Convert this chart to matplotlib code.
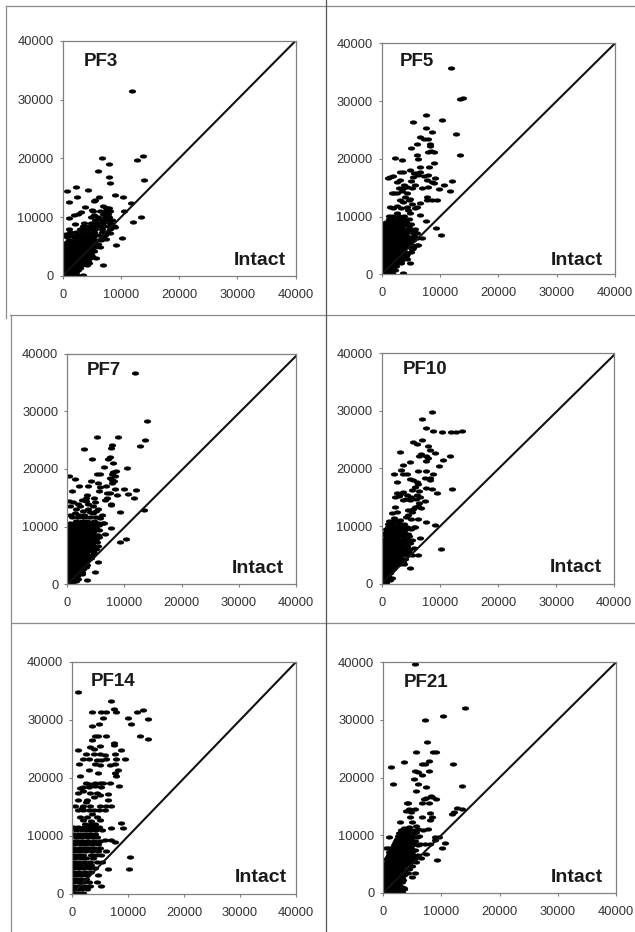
import matplotlib
matplotlib.use("Agg")
import matplotlib.pyplot as plt
from matplotlib.lines import Line2D
from matplotlib.markers import MarkerStyle
from matplotlib.transforms import Affine2D

plt.rcParams['font.family'] = ['Liberation Sans', 'DejaVu Sans']

W, H = 635, 932
ticks = [0, 10000, 20000, 30000, 40000]
tick_labels = ['0', '10000', '20000', '30000', '40000']

#points read one by one (intact, pf)
pf3_sparse = [(11900,31400),(6700,20100),(8000,19000),(12800,19800),(13700,20400),(6000,17800),(7900,16800),(8200,15800),
    (14000,16400),(800,14450),(2300,15100),(4300,14600),(1000,12600),(2500,13500),(9000,13800),(10400,13400),(11700,12400),
    (10600,11000),(6200,13400),(5400,12800),(3800,11700),(5100,11300),(13500,10100),(12100,9100),(10100,6500),(9200,5300),
    (7000,1800),(1100,9900),(1900,10400),(3100,10800),(1000,8000),(2100,8800),(600,7100),(6900,11900),(7600,11500),(5800,3000),
    (2700,10500),(5600,13000),(5300,10300),(6100,9700),(9000,8300),(8200,7300),(7400,6300),(6400,5000)]
#dense part, one row per pf level: (pf, [intact...])
pf3_rows = [(200,[200,900,1700,2500,3400]),(600,[100,800,1500,2300]),(1000,[300,1000,1800,2600]),(1400,[100,800,1500,2200,3000]),
    (1800,[300,1000,1800,2500,3300,4200]),(2200,[100,700,1500,2200,3000,3700,4600]),(2600,[300,1000,1800,2600,3300,4300]),
    (3000,[100,800,1600,2300,3000,3800,4700]),(3400,[300,1100,1900,2700,3500,4400,5100]),(3800,[200,900,1600,2400,3200,4000,4800]),
    (4200,[400,1200,2000,2800,3600,4500,5300]),(4600,[100,900,1700,2500,3300,4100,5000]),(5000,[300,1200,2100,3000,3800,4700,5500]),
    (5400,[500,1400,2400,3300,4200,5100,6000]),(5800,[800,1700,2700,3600,4500,5400]),(6200,[1100,2100,3100,4000,4800,5700,6500]),
    (6600,[800,1900,2700,3500,4400,5200,6900]),(7000,[600,1400,2500,3300,4100,5000,6100,7300]),(7500,[1300,2200,3300,4300,5300,6700,7600]),
    (8000,[3000,3900,4700,5500,6800,8100]),(8500,[3400,4500,5200,6200,7100,7900,8800]),(9000,[3700,4900,5900,7000,8200]),
    (9500,[5500,6700,7600,8500]),(10000,[4900,6000,7300,8000]),(10500,[7000,7800]),(11000,[5200,6400,7500,8100]),(11500,[7400,7900])]

pf5_sparse = [(11900,35700),(14000,30500),(13500,30350),(7600,27600),(5400,26300),(10300,26800),(7600,25400),(8600,24600),
    (12700,24300),(6600,23700),(8000,23400),(6000,22600),(8200,22600),(5100,21800),(8000,21100),(8900,21100),(6000,20600),
    (6300,19900),(2300,20200),(3500,19800),(9000,19200),(8100,18600),(6600,18500),(13500,20700),(12100,16200),(11700,14400),
    (10600,15400),(9900,14800),(9400,12900),(8600,12900),(7700,12900),(8900,15800),(7700,16300),(9100,16600),(6300,17200),
    (4900,18100),(1100,16600),(2000,17000),(3100,16300),(3100,17800),(5400,16900),(5700,15500),(6900,14900),(8000,15100),
    (3700,14900),(2600,14100),(1700,14100),(4300,14000),(6600,17800),(7700,13400),(8000,17200),(9300,8100),(10100,6800),
    (6900,6200),(7600,9300),(3700,300),(4900,2000),(6200,5100),(5400,4500),(3100,12900),(4600,12900),(4000,13400),(1400,11700),
    (2600,11800),(4300,11700),(5700,11400),(6600,12300),(6600,10300),(4900,10600),(2600,10600),(3700,17700),(5000,16200),(3900,15500),
    (8500,21300),(7300,23500),(8200,22200),(7200,17000),(8700,16000),(2700,16000),(1500,16900),(2900,15000),(4400,15100),(5200,15000),
    (3400,14500),(2100,14000),(4800,13000),(3600,12600),(5200,12200),(6100,11700),(1900,11400),(3300,11400),(4500,11200),(6100,17600),(5500,17500)]
pf5_rows = [(300,[200,1000,1800]),(700,[100,800,1600,2300]),(1100,[300,1100,1900]),(1500,[100,900,1700,2500]),
    (1900,[300,1100,1900,2700,3300]),(2300,[100,900,1700,2500,3300]),(2700,[300,1100,1900,2700,3500,4400]),
    (3100,[100,900,1700,2500,3300,4100]),(3500,[300,1100,1900,2700,3500,4300]),(3900,[100,900,1700,2500,3300,4000,5000]),
    (4300,[300,1100,1900,2700,3500,5200]),(4700,[100,900,1700,2500,3300,4200,5400]),(5100,[300,1100,1900,2700,3500,4300,5100,6000]),
    (5500,[100,900,1700,2500,3300,4100,4900]),(5900,[300,1100,1900,2700,3500,4400,5300]),(6300,[100,900,1700,2500,3300,4200,5100,6000]),
    (6700,[300,1100,1900,2700,3500,4300,5500]),(7100,[100,900,1700,2500,3300,4100,5300,6100]),(7500,[300,1100,1900,2700,3500,4300,5500]),
    (7900,[100,900,1700,2500,3300,4100,4900,5700]),(8300,[300,1100,1900,2700,3500,4700]),(8700,[100,1100,1900,2700,3500,4300,5100]),
    (9100,[800,1700,2500,3300,4100]),(9600,[1300,2100,2900,3900,4700]),(10100,[1200,2000,3000,3900])]

pf7_sparse = [(11800,36700),(14000,28300),(13600,25000),(12800,24000),(5200,25500),(8900,25500),(2900,23500),(7900,24200),
    (7600,23700),(4300,21700),(7500,22100),(7200,21700),(8000,21100),(10400,20200),(6400,20300),(300,18800),(1300,18200),
    (5700,19200),(7800,19200),(8600,19600),(8300,18700),(7800,18100),(4200,18000),(2100,17000),(3600,17100),(800,16200),
    (5300,17600),(5700,16800),(8300,16500),(9900,16600),(12000,16400),(10700,15600),(11700,14900),(8700,15500),(6900,15800),
    (7500,15800),(6600,14600),(7600,13700),(9300,12600),(13500,12900),(3500,15500),(2500,14600),(4800,14200),(1000,14300),
    (500,13500),(2200,13500),(3700,13100),(5400,13100),(1300,12300),(7600,9700),(6600,8800),(9200,7400),(10200,7900),
    (5300,3800),(4800,2100),(3500,750),(4500,12300),(3000,12000),(5700,11500),(6400,10600),(5200,8500),
    (8000,19500),(7500,18400),(8100,17900),(7800,17500),(5200,19200),(6700,17000),(5600,16200),(7000,15000),(3200,14400),
    (3700,14000),(4500,13600),(1900,14000),(300,14500),(1500,13000),(2800,12800),(3900,12500),(5100,12800),(400,12000),
    (6000,12000),(2100,12100),(7700,13900),(3300,15000),(4700,15000)]
pf7_rows = [(200,[200,900]),(600,[100,800,1500]),(1000,[300,1100,1800]),(1400,[100,900,1700]),(1800,[300,1100,1900,2500]),
    (2200,[100,900,1700,2500]),(2600,[300,1100,1900,2700]),(3000,[100,900,1700,2500,3200]),(3400,[300,1100,1900,2700,3500]),
    (3800,[100,900,1700,2500,3300]),(4200,[300,1100,1900,2700,3500]),(4600,[100,900,1700,2500,3300,4100]),
    (5000,[300,1100,1900,2700,3500,4300]),(5400,[100,900,1700,2500,3300,4700]),(5800,[300,1100,1900,2700,3600,4500]),
    (6200,[100,900,1700,2500,3300,4100,5000]),(6600,[300,1100,1900,2700,3500,4400,5300]),(7000,[100,900,1700,2500,3400,4300]),
    (7400,[300,1100,1900,2700,3600,4500,5200]),(7800,[100,900,1700,2500,3300,4100,5000]),(8200,[300,1100,1900,2800,3700,4600,5500]),
    (8600,[100,900,1700,2600,3500,4400,5300]),(9000,[300,1100,2000,2900,3700,4500]),(9400,[100,900,1700,2600,3600,4700,5600]),
    (9800,[300,1300,2200,3100,4100,5000]),(10200,[100,900,1800,2700,3600,4600,5600]),(10600,[400,1300,2200,3200,4400,5300,6300]),
    (11000,[1500,2500,3400,4700]),(11600,[900,1900,3000,4000,5100])]

pf10_sparse = [(8600,29700),(7000,28500),(7600,27000),(8900,26400),(10400,26300),(12000,26300),(12800,26300),(13800,26500),
    (6900,24900),(5300,24500),(6000,24300),(8000,23900),(8300,23100),(9200,22700),(6800,22500),(6400,22100),(7700,22100),
    (11700,22100),(3200,22900),(7700,21200),(10600,21400),(9900,20400),(4900,21100),(3600,20600),(3400,19800),(2100,19000),
    (4400,19100),(6300,19600),(7700,19600),(8900,19100),(3700,19100),(8300,18400),(5400,18000),(6000,17700),(7700,16600),
    (8600,16500),(12100,16500),(9500,15700),(2600,17600),(5700,16800),(2700,15800),(3700,15900),(2300,15100),(4400,15400),
    (6000,15400),(6600,15100),(4900,14500),(7400,14300),(3700,14500),(6800,13100),(2300,13300),(5700,13300),(5200,12500),
    (1700,12200),(2600,12500),(4600,11900),(6300,11200),(7600,10700),(9200,10100),(1300,10900),(10200,6000),(6300,5000),
    (4900,2800),(6600,8000),(5700,9900),(5200,7600),(4600,5500),(3700,3800),(4800,18200),(7400,18300),
    (8000,21800),(8300,18000),(6200,17300),(5200,16200),(6400,16000),(3200,15600),(5100,15100),(4200,14700),(3000,15200),
    (5900,14600),(6500,14000),(6200,13500),(4600,12800),(5300,13000),(4100,11600),(3200,11000),(2200,11400),(2800,10900),(5000,11200)]
pf10_rows = [(200,[100,700]),(600,[200,900,1500]),(1000,[100,800,1700]),(1400,[300,1000]),(1800,[100,800,1400]),
    (2200,[300,1000,1600]),(2600,[100,800,1400,2000]),(3000,[300,1000,1700,2300]),(3400,[100,800,1500,2200,3200,3800]),
    (3800,[300,1000,1700,2400,3100]),(4200,[100,800,1500,2200,2900,4000]),(4600,[300,1000,1700,2400,3200]),
    (5000,[200,900,1600,2300,3000,4100,5200]),(5400,[100,800,1500,2200,2900,3700]),(5800,[200,900,1600,2300,3000,3800,4700]),
    (6200,[300,1000,1700,2400,3300,4300,5600]),(6600,[400,1100,1800,2600,3400,4400]),(7000,[300,1000,1700,2400,3100,3900,4800]),
    (7400,[500,1200,1900,2600,3500,4600]),(7800,[500,1200,1900,2700,3600,4400]),(8200,[700,1400,2100,2800,3600,4700]),
    (8600,[600,1300,2000,2800,3700,4500]),(9000,[800,1500,2200,3000,3800]),(9400,[800,1600,2400,3300,4100,5000]),
    (9800,[1000,1700,2500,3400,4300,5500]),(10300,[1100,2000,2900,3800]),(10800,[1900,3000])]

pf14_sparse = [(1100,34800),(6900,33300),(7500,31900),(7800,31300),(3600,31300),(5200,31300),(6000,31300),(11600,31300),
    (12700,31800),(9900,30300),(13600,30200),(5500,30300),(10500,29300),(4800,29300),(3600,28900),(12100,27300),(13500,26800),
    (4100,27300),(4600,27300),(6000,27300),(3600,26500),(7500,26100),(7500,25700),(4900,25500),(3200,25300),(1100,24800),
    (3800,25000),(8700,24800),(7600,24200),(2400,24200),(3800,24200),(4900,24200),(5800,24000),(9400,23300),(2000,23300),
    (2900,23300),(4400,23100),(5200,23100),(6100,23200),(7900,23200),(1200,22400),(4100,22400),(4900,22200),(6700,22200),
    (7600,22400),(2900,21400),(4600,20800),(8200,21400),(7600,20800),(7900,20300),(1400,20300),(2400,19100),(4900,19200),
    (4100,19100),(5500,19100),(6700,19200),(8300,18700),(5200,18500),(1400,18200),(2900,18400),(1100,17500),(2000,18400),
    (4400,17400),(6300,17200),(3200,17400),(3800,16800),(4900,17100),(1100,16200),(2600,16200),(6400,16200),(400,15200),
    (2000,15200),(3200,15200),(4900,15200),(6100,15200),(6900,15200),(1100,14400),(2000,14400),(2900,14400),(3800,14400),
    (4700,14400),(5900,14400),(1400,13300),(2700,13300),(4400,13300),(4900,12800),(8700,12200),(7000,11300),(9100,11300),
    (10300,6300),(10100,4300),(6300,4300),(4600,3300),(4400,2000),(5200,1300),(7600,8900),(5800,9300),(7000,9300),
    (4000,18600),(3000,19000),(1900,17700),(2500,15800),(1700,14900),(3500,13800),(2000,12700),(3400,12600)]
pf14_rows = [(200,[200,1000,1900]),(800,[100,900,1600,2700]),(1400,[300,1200,2300,3200]),(2000,[100,1000,2000,2900]),
    (2600,[400,1300,2400]),(3200,[100,900,1800,2700]),(3800,[300,1200,2200,3300]),(4400,[100,1000,1900,3000,4000]),
    (5000,[400,1300,2400,3400]),(5600,[200,1100,2100,3100,4500,5400]),(6200,[500,1500,2500,3700]),(6800,[200,1100,2000,3300,4300,5100]),
    (7400,[500,1400,2500,3500,4600,6000]),(8000,[200,1200,2100,3000,3800,5000]),(8600,[500,1500,2400,3600,4600]),
    (9200,[300,1100,2000,2800,3900,5000]),(9800,[600,1500,2600,3600,4500]),(10400,[200,1200,2200,3100,4000]),
    (11000,[700,1700,2600,3400,4300,5300]),(11500,[200,1100,2100,3000,3800,4700]),(12100,[2300,3300,4100])]

pf21_sparse = [(5400,39700),(14000,32100),(10300,30700),(7100,29900),(7500,26200),(5600,24500),(8600,24500),(9000,24500),
    (3600,22700),(6600,22400),(7900,22900),(7200,22400),(11900,22400),(1400,21800),(7900,21200),(5400,21200),(6000,20900),
    (6600,20500),(5300,19700),(5900,18800),(1700,18800),(7400,18400),(13600,18500),(5700,17600),(8200,16800),(9100,16300),
    (7400,16400),(6600,15600),(7900,15600),(4300,15500),(12600,14700),(13500,14600),(11800,13700),(3900,14100),(4500,14600),
    (5400,14500),(8000,13900),(8300,13200),(8000,12600),(6600,13200),(2900,12300),(4600,13200),(7700,11000),(5700,11500),
    (8900,9700),(9500,9700),(8900,9100),(10600,8700),(10100,7800),(9200,5700),(900,9600),(400,7700),(900,7700),(6300,8400),
    (7200,8400),(8000,8400),(6500,6100),(5400,3400),(4900,2800),(3500,900),(5700,10500),(4900,12200),(12200,14000),
    (4000,15500),(4800,14000),(8400,16700),(7000,16200),(5100,8600),(5800,9700),(6800,10900),(6000,11100),(3500,11300),(4400,11400),(7400,6700)]
pf21_rows = [(200,[100,900,1700,2500,3200]),(600,[300,1100,1900,2700,3500]),(1000,[100,900,1700,2500,3300]),(1400,[300,1100,1900,2700]),
    (1800,[100,900,1700,2500,3200]),(2200,[300,1100,1900,2700,3400]),(2600,[100,900,1700,2500,3300]),(3000,[300,1100,1900,2700,3500]),
    (3400,[100,900,1700,2500,3300,4300]),(3800,[300,1100,1900,2700,3500]),(4200,[100,900,1700,2500,3300,4500]),
    (4600,[300,1100,1900,2700,3500,4900]),(5000,[100,900,1700,2500,3300,4100]),(5400,[700,1500,2300,3100,3900,4700,5700]),
    (5800,[500,1300,2100,2900,3700,4500,5300]),(6200,[800,1600,2400,3200,4000,5000,5900]),(6600,[1000,1800,2600,3400,4200,5100,6000]),
    (7000,[1000,1800,2600,3400,4200,4900]),(7400,[1300,2100,2900,3700,4500,5500]),(7800,[1500,2300,3100,3900,4700]),
    (8200,[1800,2600,3400,4200,5000,5900]),(8600,[2000,2800,3600,4400]),(9000,[2200,3000,3800,4700,5500]),
    (9400,[2400,3200,4000,4800]),(9800,[2600,3400,4200,5000,6100]),(10300,[2700,3500,4300,5300]),(10800,[3000,4000,5000])]

panels = [
    ('PF3', pf3_sparse, pf3_rows, (62.7, 295.7, 40.7, 276.0), (0.089, 0.91), (0.957, 0.067), 40000),
    ('PF5', pf5_sparse, pf5_rows, (381.7, 615.0, 43.3, 274.3), (0.076, 0.92), (0.95, 0.06), 40000),
    ('PF7', pf7_sparse, pf7_rows, (67.3, 296.0, 353.7, 584.3), (0.087, 0.929), (0.945, 0.07), 39600),
    ('PF10', pf10_sparse, pf10_rows, (381.7, 614.3, 353.0, 583.7), (0.089, 0.93), (0.945, 0.072), 39700),
    ('PF14', pf14_sparse, pf14_rows, (72.3, 296.0, 662.0, 894.0), (0.082, 0.915), (0.961, 0.07), 40000),
    ('PF21', pf21_sparse, pf21_rows, (383.3, 616.0, 662.3, 892.7), (0.09, 0.912), (0.945, 0.065), 40000),
]

fig = plt.figure(figsize=(W / 100, H / 100), dpi=100, facecolor='white')
dash = MarkerStyle('o', transform=Affine2D().scale(1, 0.58))

for name, sparse, rows, box, name_pos, intact_pos, line_end in panels:
    x0, x1, top, bottom = box
    ax = fig.add_axes([x0 / W, 1 - bottom / H, (x1 - x0) / W, (bottom - top) / H])
    xs = [p[0] for p in sparse]
    ys = [p[1] for p in sparse]
    for level, row in rows:
        xs += row
        ys += [level] * len(row)
    ax.plot(xs, ys, linestyle='none', marker=dash, color='black', markersize=5.2, markeredgewidth=0)
    ax.plot([0, 40000], [0, line_end], color='#111111', lw=1.5)
    ax.set_xlim(0, 40000)
    ax.set_ylim(0, 40000)
    ax.set_xticks(ticks, tick_labels)
    ax.set_yticks(ticks, tick_labels)
    ax.tick_params(axis='x', length=2.5, width=0.8, color='#808080', labelsize=9.3, labelcolor='#333333', pad=7)
    ax.tick_params(axis='y', length=2.5, width=0.8, color='#808080', labelsize=9.3, labelcolor='#333333', pad=4)
    for spine in ax.spines.values():
        spine.set_color('#808080')
        spine.set_linewidth(0.9)
    ax.text(name_pos[0], name_pos[1], name, transform=ax.transAxes, fontsize=13.5, fontweight='bold',
            color='#1a1a1a', ha='left', va='center')
    ax.text(intact_pos[0], intact_pos[1], 'Intact', transform=ax.transAxes, fontsize=14, fontweight='bold',
            color='#1a1a1a', ha='right', va='center')

#frame lines of the table round the panels
frame = [
    ([6, 635], [5.5, 5.5], '#8c8c8c'),
    ([6, 6], [5.5, 318], '#8c8c8c'),
    ([10, 635], [314.5, 314.5], '#8c8c8c'),
    ([10.5, 10.5], [314.5, 932], '#8c8c8c'),
    ([11, 635], [623, 623], '#8c8c8c'),
    ([325.7, 325.7], [0, 932], '#555555'),
]
for fx, fy, col in frame:
    fig.add_artist(Line2D([v / W for v in fx], [1 - v / H for v in fy], color=col, lw=0.9))

fig.savefig('out.png', dpi=100)
